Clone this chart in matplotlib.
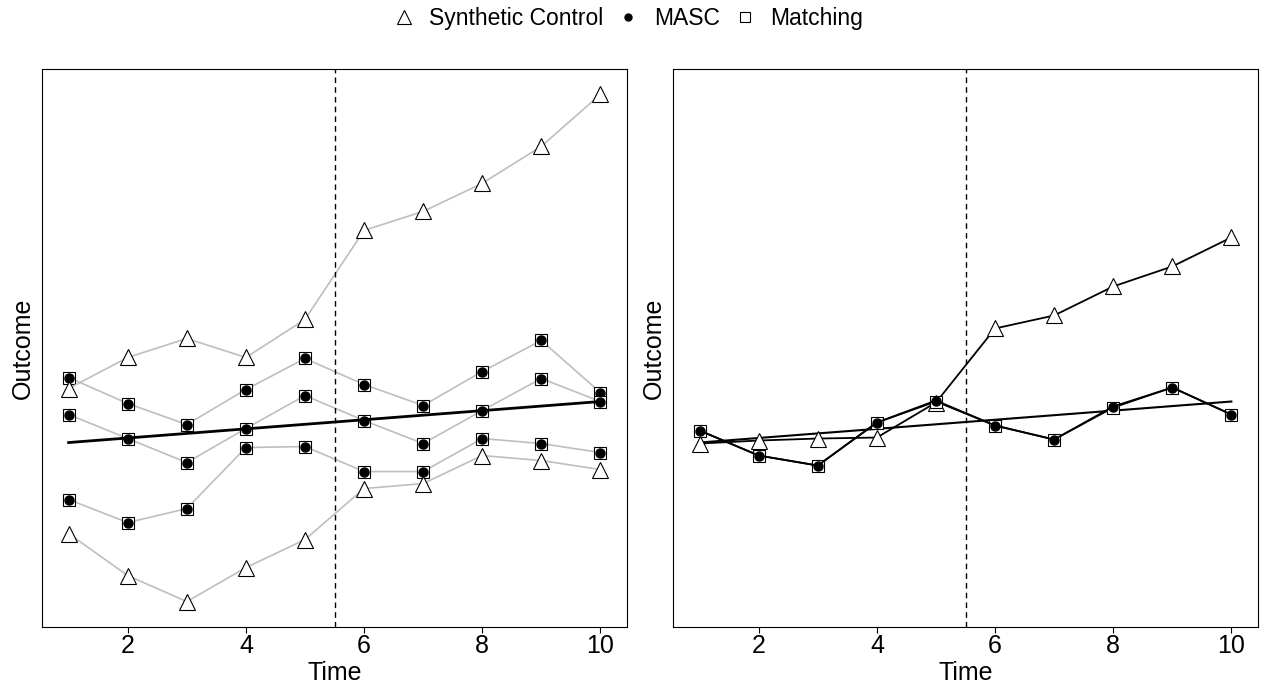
import matplotlib.pyplot as plt
from matplotlib.lines import Line2D

plt.rcParams['font.family'] = ['Liberation Sans', 'DejaVu Sans']

time = [1, 2, 3, 4, 5, 6, 7, 8, 9, 10]

# left panel: donor units (arbitrary outcome units, no y ticks in the original)
donor_tri_top = [31.3, 34.4, 36.3, 34.4, 38.2, 47.1, 49.0, 51.8, 55.5, 60.7]
donor_sq_a = [32.4, 29.8, 27.7, 31.2, 34.3, 31.7, 29.6, 33.0, 36.1, 30.9]
donor_sq_b = [28.7, 26.3, 23.9, 27.3, 30.6, 28.1, 25.8, 29.1, 32.3, 30.0]
donor_sq_c = [20.2, 17.9, 19.3, 25.4, 25.5, 23.0, 23.0, 26.3, 25.8, 24.9]
donor_tri_bot = [16.8, 12.6, 10.0, 13.4, 16.2, 21.3, 21.8, 24.6, 24.1, 23.2]

# treated unit (straight line), same in both panels
treated = [25.9 + (30.0 - 25.9) * (t - 1) / 9 for t in time]

# right panel: estimators
synth = [25.8, 26.1, 26.3, 26.4, 29.9, 37.3, 38.6, 41.5, 43.5, 46.4]
masc = [27.1, 24.6, 23.6, 27.9, 30.1, 27.6, 26.2, 29.5, 31.4, 28.7]
matching = [27.1, 24.6, 23.6, 27.9, 30.0, 27.6, 26.2, 29.4, 31.4, 28.7]

grey = '#bebebe'
tri = dict(marker='^', markersize=11.5, markerfacecolor='white', markeredgecolor='black', markeredgewidth=0.8)
sq = dict(marker='s', markersize=9, markerfacecolor='white', markeredgecolor='black', markeredgewidth=0.8)
dot = dict(marker='o', markersize=6.5, markerfacecolor='black', markeredgecolor='black', linestyle='none')

fig = plt.figure(figsize=(12.63, 6.88), dpi=100)
ax1 = fig.add_axes([0.0333, 0.0887, 0.4631, 0.8110])
ax2 = fig.add_axes([0.5329, 0.0887, 0.4631, 0.8110])

# left
for series in [donor_sq_a, donor_sq_b, donor_sq_c]:
    ax1.plot(time, series, color=grey, lw=1.2, **sq)
    ax1.plot(time, series, **dot)
for series in [donor_tri_top, donor_tri_bot]:
    ax1.plot(time, series, color=grey, lw=1.2, **tri)
ax1.plot(time, treated, color='black', lw=2)

# right
ax2.plot(time, treated, color='black', lw=1.5)
ax2.plot(time, synth, color='black', lw=1.3, **tri)
ax2.plot(time, matching, color='black', lw=1.3, **sq)
ax2.plot(time, masc, color='black', lw=1.3, marker='o', markersize=6.5, markerfacecolor='black')

ymin = min(donor_tri_bot)
ymax = max(donor_tri_top)
pad = (ymax - ymin) * 0.05
for ax in [ax1, ax2]:
    ax.axvline(5.5, color='black', lw=1, linestyle=(0, (4, 3)))
    ax.set_xlim(0.55, 10.45)
    ax.set_ylim(ymin - pad, ymax + pad)
    ax.set_xticks([2, 4, 6, 8, 10])
    ax.set_yticks([])
    ax.tick_params(axis='x', labelsize=18, length=4, pad=1)
    ax.set_xlabel('Time', fontsize=18, labelpad=2)
    ax.set_ylabel('Outcome', fontsize=18, labelpad=5)
    for s in ax.spines.values():
        s.set_linewidth(0.8)

handles = [
    Line2D([], [], marker='^', markersize=9.5, markerfacecolor='white', markeredgecolor='black', linestyle='none', markeredgewidth=0.8),
    Line2D([], [], marker='o', markersize=5, markerfacecolor='black', markeredgecolor='black', linestyle='none'),
    Line2D([], [], marker='s', markersize=7, markerfacecolor='white', markeredgecolor='black', linestyle='none', markeredgewidth=0.8),
]
fig.legend(handles, ['Synthetic Control', 'MASC', 'Matching'], loc='upper center',
           bbox_to_anchor=(0.496, 1.02), ncol=3, frameon=False, fontsize=16.5,
           handletextpad=0.5, columnspacing=0.5, handlelength=1.2)

fig.savefig('out.png', dpi=100)
